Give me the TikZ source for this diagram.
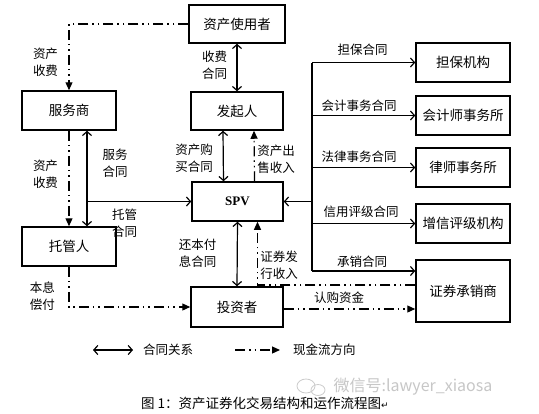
\documentclass[tikz,border=0pt]{standalone}
\usepackage{fontspec}
\setmainfont{Noto Sans CJK SC}
\newfontfamily\lsfont{Liberation Serif}
\newfontfamily\symfont{DejaVu Sans}
\usetikzlibrary{arrows.meta}
\begin{document}
\begin{tikzpicture}[x=1pt,y=-1pt,
 box/.style={draw,line width=1.5pt,minimum width=93pt,minimum height=39pt,inner sep=0pt,font=\fontsize{13.5}{16}\selectfont},
 lbl/.style={align=center,font=\fontsize{12.5}{17}\selectfont,inner sep=0pt},
 contract/.style={line width=1.2pt,{Straight Barb[length=4pt,width=9pt]}-{Straight Barb[length=4pt,width=9pt]}},
 contractone/.style={line width=1.2pt,-{Straight Barb[length=4pt,width=9pt]}},
 cash/.style={line width=1.2pt,dash pattern=on 10pt off 4pt on 1.5pt off 4pt on 1.5pt off 4pt,-{Triangle[length=8pt,width=7pt]}}]
\useasboundingbox[fill=white] (0,0) rectangle (539,413);

% boxes
\node[box,minimum width=96pt,minimum height=38pt] (user) at (237,24) {资产使用者};
\node[box,minimum width=94pt] (svc) at (69,110.5) {服务商};
\node[box,minimum width=92pt,minimum height=38pt] (orig) at (237,111) {发起人};
\node[box,minimum width=91pt,font=\lsfont\bfseries\fontsize{13}{16}\selectfont] (spv) at (237.5,201.5) {SPV};
\node[box,minimum width=94pt] (cust) at (69,246.5) {托管人};
\node[box,minimum width=92pt,minimum height=40pt] (inv) at (237,307) {投资者};
\node[box,minimum width=94pt] (g1) at (463,62.5) {担保机构};
\node[box,minimum width=94pt] (g2) at (463,115.5) {会计师事务所};
\node[box,minimum width=94pt] (g3) at (463,167.5) {律师事务所};
\node[box,minimum width=94pt] (g4) at (463,223.5) {增信评级机构};
\node[box,minimum width=94pt,minimum height=62pt] (g5) at (463,291) {证券承销商};

% left side
\draw[cash] (user.west) -| (svc.north);
\draw[contract] (user.south) -- (orig.north);
\draw[cash] (svc.south) -- (cust.north);
\draw[contract] ([xshift=18pt]svc.south) -- ([xshift=18pt]cust.north);
\coordinate (j1) at ([xshift=18pt]svc.south |- spv.west);
\draw[contractone] (j1) -- (spv.west);
\draw[cash] (cust.south) |- (inv.west);

% centre
\draw[contract] ([xshift=-14pt]orig.south) -- ([xshift=-14pt]spv.north);
\draw[cash] ([xshift=17pt]spv.north) -- ([xshift=17pt]orig.south);
\draw[contract] (spv.south) -- (inv.north);
\draw[cash] ([yshift=6pt]g5.west) -| ([xshift=20pt]spv.south);
\coordinate (ie) at ([yshift=-2pt]inv.east);
\draw[cash] (ie) -- (ie -| g5.west);

% right bus
\coordinate (bus) at (312,201.5);
\coordinate (g5t) at ([yshift=20pt]g5.west);
\coordinate (btop) at (bus |- g1.west);
\coordinate (bbot) at (bus |- g5t);
\draw[line width=1.2pt] (btop) -- (bbot);
\draw[contractone] (bus) -- (spv.east);
\draw[contractone] (btop) -- (g1.west);
\draw[contractone] (bus |- g2.west) -- (g2.west);
\draw[contractone] (bus |- g3.west) -- (g3.west);
\draw[contractone] (bus |- g4.west) -- (g4.west);
\draw[contractone] (bbot) -- (g5t);

% labels
\node[lbl] at (45.5,62) {资产\\收费};
\node[lbl] at (214.5,65) {收费\\合同};
\node[lbl] at (45.5,174) {资产\\收费};
\node[lbl] at (115,163.5) {服务\\合同};
\node[lbl] at (124.5,223.5) {托管\\合同};
\node[lbl] at (194,158) {资产购\\买合同};
\node[lbl] at (276,159) {资产出\\售收入};
\node[lbl] at (197.5,253.5) {还本付\\息合同};
\node[lbl] at (279,265) {证券发\\行收入};
\node[lbl] at (42.5,296) {本息\\偿付};
\node[lbl] at (339,298) {认购资金};
\node[lbl] at (362.5,50) {担保合同};
\node[lbl] at (359,106) {会计事务合同};
\node[lbl] at (359,157) {法律事务合同};
\node[lbl] at (361,212) {信用评级合同};
\node[lbl] at (362,262) {承销合同};

% legend
\coordinate (la) at (93,350);
\coordinate (lb) at (133,350);
\draw[contract] (la) -- (lb);
\node[lbl,anchor=west] (lt1) at (143,350) {合同关系};
\coordinate (lc) at (235,350);
\coordinate (ld) at (280,350);
\draw[cash] (lc) -- (ld);
\node[lbl,anchor=west] (lt2) at (293,350) {现金流方向};

% watermark
\draw[black!20,line width=0.8pt] (306,386) ellipse (9pt and 7pt);
\draw[black!20,line width=0.8pt] (318,390) ellipse (7pt and 5.5pt);
\node[text=black!22,font=\fontsize{16}{16}\selectfont,inner sep=0pt] (wm) at (413,387) {微信号:lawyer\_xiaosa};

% caption
\node[font=\fontsize{13.5}{16}\selectfont,inner sep=0pt] (cap) at (265,403) {图 1：资产证券化交易结构和运作流程图{\symfont\fontsize{9}{9}\selectfont ↵}};
\end{tikzpicture}
\end{document}
